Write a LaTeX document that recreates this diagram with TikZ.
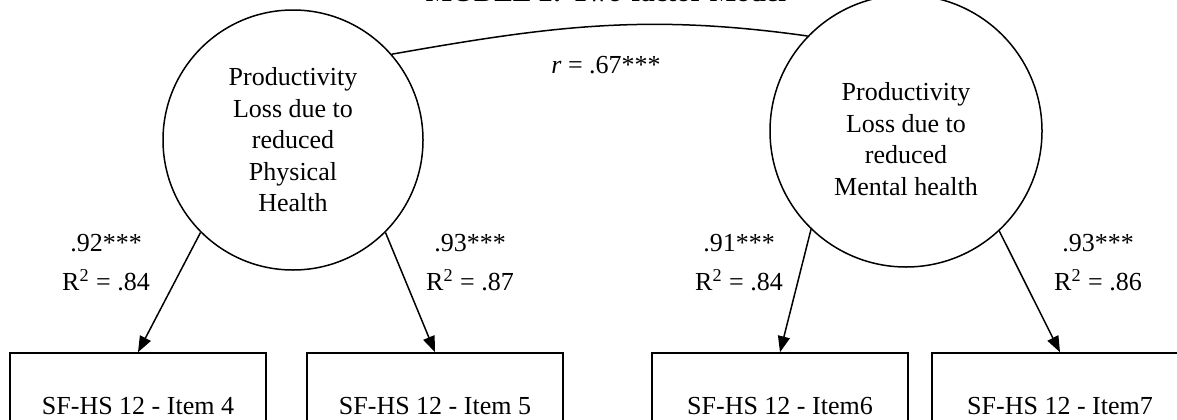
\documentclass[tikz,border=0pt]{standalone}
\usepackage{fontspec}
\setmainfont{Liberation Serif}
\usetikzlibrary{arrows.meta,positioning}
\tikzset{
  latent/.style={circle, draw, line width=0.75pt, minimum size=130pt, inner sep=0pt,
                 align=center, font=\fontsize{13}{15.75}\selectfont},
  item/.style={rectangle, draw, line width=0.75pt, minimum width=128pt,
               minimum height=53pt, font=\fontsize{13}{15.75}\selectfont},
  arr/.style={-{Triangle[length=8pt,width=6pt]}, line width=0.75pt},
  lbl/.style={align=center, font=\fontsize{13}{15.75}\selectfont},
}
\begin{document}
\begin{tikzpicture}[x=0.5pt,y=0.5pt]
    \useasboundingbox (0,0) rectangle (1177,419);
    \node[anchor=base, font=\bfseries\fontsize{14}{16}\selectfont] (title) at (606,417.5) {MODEL 2: Two-factor Model};
    \node[latent] (phys) at (293,279) {Productivity\\Loss due to\\reduced\\Physical\\Health};
    \node[latent, minimum size=136pt,
          label={[lbl, yshift=-4pt]center:Productivity\\Loss due to\\reduced\\Mental health}] (ment) at (906,288) {};
    \node[item] (item4) at (138,13) {SF-HS 12 - Item 4};
    \node[item] (item5) at (435,13) {SF-HS 12 - Item 5};
    \node[item] (item6) at (780,13) {SF-HS 12 - Item6};
    \node[item] (item7) at (1060,13) {SF-HS 12 - Item7};
    \draw[line width=0.75pt] (phys.41) to[out=10,in=172] (ment.136);
    \node[lbl] (corr) at (606,354) {\textit{r} = .67***};
    \draw[arr] (phys.225) -- (item4.north);
    \draw[arr] (phys.315) -- (item5.north);
    \draw[arr] (ment.226) -- (item6.north);
    \draw[arr] (ment.313) -- (item7.north);
    \node[lbl] (load4) at (106,156.5) {.92***\\[3.5pt]R\textsuperscript{2} = .84};
    \node[lbl] (load5) at (470,156.5) {.93***\\[3.5pt]R\textsuperscript{2} = .87};
    \node[lbl] (load6) at (739,156.5) {.91***\\[3.5pt]R\textsuperscript{2} = .84};
    \node[lbl] (load7) at (1098,156.5) {.93***\\[3.5pt]R\textsuperscript{2} = .86};
\end{tikzpicture}
\end{document}
